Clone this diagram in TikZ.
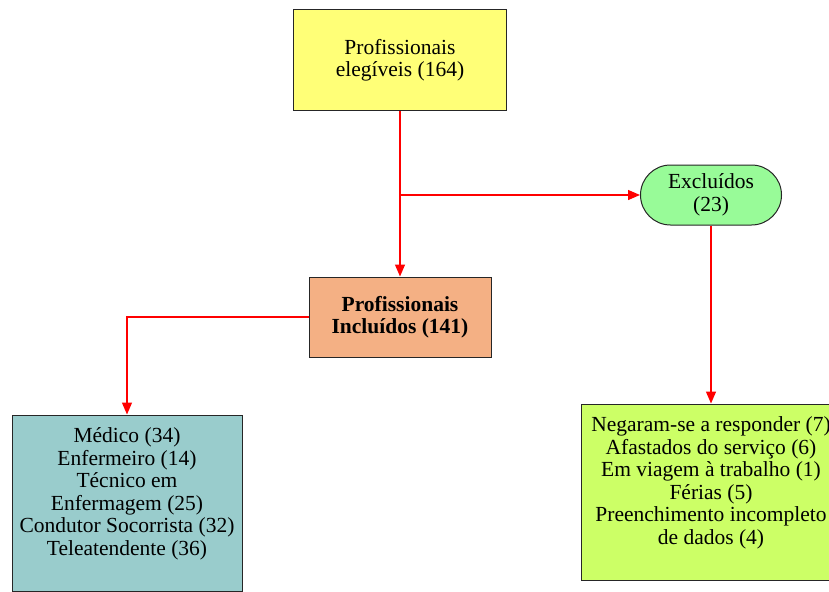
\documentclass[tikz,border=0pt]{standalone}
\usepackage{fontspec}
\setmainfont{Liberation Serif}
\usetikzlibrary{arrows.meta,positioning}
\definecolor{amarelo}{RGB}{255,255,119}
\definecolor{salmao}{RGB}{244,176,132}
\definecolor{verdeclaro}{RGB}{152,251,152}
\definecolor{azulado}{RGB}{153,204,204}
\definecolor{limao}{RGB}{204,255,102}
\tikzset{caixa/.style={rectangle,draw=black!85,line width=1pt,inner sep=0pt,align=center,font=\fontsize{21.5}{22.5}\selectfont},
  seta/.style={-{Triangle[length=12pt,width=10pt]},red,line width=1.3pt}}

\begin{document}
\begin{tikzpicture}[x=1pt,y=-1pt]
% \draw[help lines] (0,0) grid (829,591);
\useasboundingbox (0,0) rectangle (829,591);
\node (eleg) [caixa,fill=amarelo,minimum width=213pt,minimum height=101pt] at (400,60.5) {Profissionais\\elegíveis (164)};
\node (incl) [caixa,fill=salmao,minimum width=182pt,minimum height=80pt,font=\fontsize{21.5}{22.5}\selectfont\bfseries] at (400,317) {Profissionais\\Incluídos (141)};
\node (excl) [caixa,fill=verdeclaro,rounded corners=30pt,minimum width=141pt,minimum height=60pt] at (711,195) {Excluídos\\(23)};
\node (cat) [caixa,fill=azulado,minimum width=230pt,minimum height=176pt] at (127,503) {Médico (34)\\Enfermeiro (14)\\Técnico em\\Enfermagem (25)\\Condutor Socorrista (32)\\Teleatendente (36)\\\mbox{}};
\node (motivo) [caixa,fill=limao,minimum width=259pt,minimum height=176pt] at (711,492) {Negaram-se a responder (7)\\Afastados do serviço (6)\\Em viagem à trabalho (1)\\Férias (5)\\Preenchimento incompleto\\de dados (4)\\\mbox{}};
\coordinate (ramo) at (400,195);
%
\path[seta] (eleg) edge (incl);
\path[seta] (ramo) edge (excl);
\path[seta] (excl) edge (motivo);
\draw[seta] (incl) -| (cat);
\end{tikzpicture}
\end{document}
